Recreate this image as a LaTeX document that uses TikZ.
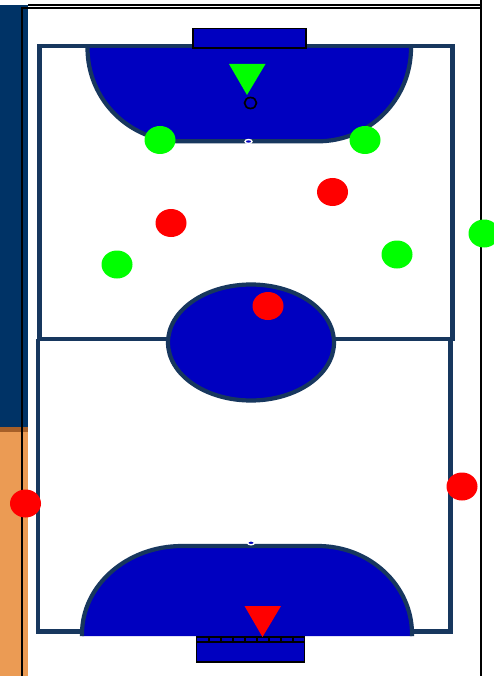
\documentclass[tikz,border=0pt]{standalone}
\definecolor{fieldline}{HTML}{17375E}
\definecolor{area}{HTML}{0000C0}
\definecolor{bandnavy}{HTML}{003366}
\definecolor{bandorange}{HTML}{EB9B54}
\definecolor{bandbrown}{HTML}{A65F28}
\definecolor{pgreen}{HTML}{00FF00}
\definecolor{pred}{HTML}{FF0000}
\tikzset{
  fieldstroke/.style={draw=fieldline,line width=4.2pt,line join=miter},
  areafill/.style={fill=area,draw=none},
  frameline/.style={draw=black,line width=1.7pt},
  goalbox/.style={fill=area,draw=black,line width=1.8pt},
  goalnet/.style={draw=black,line width=2pt},
  greenplayer/.style={fill=pgreen,draw=none},
  redplayer/.style={fill=pred,draw=none},
  spot/.style={fill=area,draw=white,line width=1.4pt},
}
\begin{document}
\begin{tikzpicture}[x=1pt,y=-1pt]
\useasboundingbox (0,0) rectangle (494,676);
\fill[white] (0,0) rectangle (494,676);
% side band
\fill[bandnavy] (0,5) rectangle (28,427);
\fill[bandbrown] (0,427) rectangle (28,432);
\fill[bandorange] (0,432) rectangle (28,676);
% frame lines
\draw[frameline] (22,676) -- (22,8) -- (481,8);
\draw[frameline] (28,5) -- (481,5);
\draw[frameline] (481,0) -- (481,676);
% field halves
\draw[fieldstroke] (39.5,339) -- (39.5,46) -- (452.5,46) -- (452.5,339) -- cycle;
\draw[fieldstroke] (38,339) -- (38,631.5) -- (450.5,631.5) -- (450.5,339);
% top penalty area
\fill[areafill] (87,48) arc[x radius=93,y radius=93,start angle=180,end angle=90] -- (318,141) arc[x radius=93,y radius=93,start angle=90,end angle=0] -- cycle;
\draw[fieldstroke] (87.5,48) arc[x radius=93,y radius=93.3,start angle=180,end angle=90] -- (318,141.3) arc[x radius=93,y radius=93.3,start angle=90,end angle=0];
% bottom penalty area
\fill[areafill] (82,636) -- (82,634) arc[x radius=100,y radius=88,start angle=180,end angle=270] -- (318,546) arc[x radius=94,y radius=88,start angle=270,end angle=360] -- (412,636) -- cycle;
\draw[fieldstroke] (82,636) -- (82,634) arc[x radius=100,y radius=88,start angle=180,end angle=270] -- (318,546) arc[x radius=94,y radius=88,start angle=270,end angle=360] -- (412,636);
% centre circle
\draw[fieldstroke,fill=area] (251,342.5) ellipse[x radius=83,y radius=58];
% goals
\draw[goalbox] (193,48) rectangle (306,28.5);
\draw[goalbox] (196.5,637) rectangle (304.5,662);
\draw[goalnet] (196.5,641.5) -- (304.5,641.5);
\foreach \x in {208.5,220.7,232.7,245,257,269,281,293.3}
  \draw[goalnet] (\x,637) -- (\x,641.5);
% spots
\draw[spot] (248.5,141.5) ellipse[x radius=3.5,y radius=2];
\draw[spot] (251,542.8) ellipse[x radius=3.5,y radius=2];
\draw[black,line width=1.7pt] (250.5,103) ellipse[x radius=6,y radius=5.5];
% keepers
\fill[pgreen] (229,64) -- (265.5,64) -- (247,95) -- cycle;
\fill[pred] (244.5,606) -- (281,606) -- (262.5,637) -- cycle;
% players
\foreach \x/\y in {160/140,365/140,117/264.5,397/254.5,484/233.5}
  \fill[greenplayer] (\x,\y) ellipse[x radius=15.5,y radius=14];
\foreach \x/\y in {332.5/192,171/223,268/306,462/486.5,25.5/503.5}
  \fill[redplayer] (\x,\y) ellipse[x radius=15.5,y radius=14];
\end{tikzpicture}
\end{document}
